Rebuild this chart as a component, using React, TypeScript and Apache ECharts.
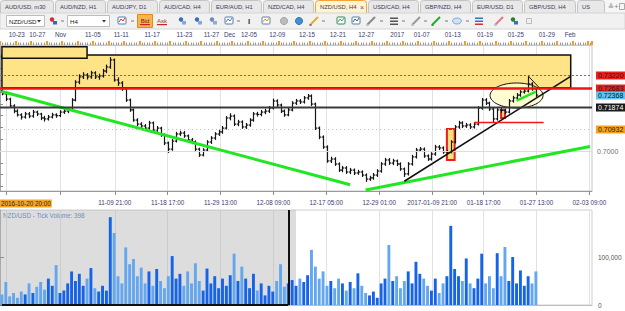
import React, { useEffect, useRef } from "react";
import * as echarts from "echarts";

const FONT = "'Liberation Sans', 'DejaVu Sans', Arial, sans-serif";

// ---------- DATA ----------
// each slot on the price axis holds three H4 bars
const SLOT_COUNT = 153;
const slotLabels: string[] = Array.from({ length: SLOT_COUNT }, (_, i) => "s" + i);

// [open, close, low, high]
const candles: number[][] = [
  [0.7255, 0.7242, 0.7236, 0.7263], [0.7242, 0.722, 0.7212, 0.7248], [0.722, 0.7191, 0.7184, 0.7226],
  [0.7191, 0.7169, 0.716, 0.7198], [0.7169, 0.7153, 0.7146, 0.7177], [0.7153, 0.7144, 0.7133, 0.716],
  [0.7144, 0.7157, 0.7137, 0.7166], [0.7157, 0.7148, 0.7139, 0.7165], [0.7148, 0.7165, 0.7141, 0.7174],
  [0.7165, 0.7157, 0.7148, 0.7171], [0.7157, 0.714, 0.7131, 0.7162], [0.714, 0.7136, 0.7125, 0.7149],
  [0.7136, 0.7144, 0.7129, 0.7153], [0.7144, 0.7153, 0.7138, 0.7162], [0.7153, 0.715, 0.7141, 0.716],
  [0.715, 0.7165, 0.7144, 0.7173], [0.7165, 0.7169, 0.7157, 0.7178], [0.7169, 0.7174, 0.716, 0.7184],
  [0.7174, 0.7216, 0.7168, 0.7224], [0.7216, 0.7292, 0.721, 0.73], [0.7292, 0.7314, 0.7283, 0.7325],
  [0.7314, 0.7322, 0.7305, 0.7334], [0.7322, 0.7314, 0.7303, 0.733], [0.7314, 0.7331, 0.7306, 0.734],
  [0.7331, 0.7314, 0.7305, 0.7338], [0.7314, 0.7318, 0.7302, 0.7328], [0.7318, 0.7339, 0.7311, 0.7348],
  [0.7339, 0.7356, 0.733, 0.7366], [0.7356, 0.7386, 0.7348, 0.7398], [0.7386, 0.7301, 0.7294, 0.7392],
  [0.7301, 0.7288, 0.7276, 0.7312], [0.7288, 0.7263, 0.7255, 0.7296], [0.7263, 0.7216, 0.7208, 0.727],
  [0.7216, 0.7174, 0.7166, 0.7222], [0.7174, 0.7131, 0.7124, 0.718], [0.7131, 0.7114, 0.7105, 0.7139],
  [0.7114, 0.7106, 0.7096, 0.7122], [0.7106, 0.7097, 0.7088, 0.7114], [0.7097, 0.7119, 0.709, 0.7128],
  [0.7119, 0.7089, 0.708, 0.7125], [0.7089, 0.7097, 0.7081, 0.7106], [0.7097, 0.7068, 0.706, 0.7103],
  [0.7068, 0.7034, 0.7025, 0.7075], [0.7034, 0.7008, 0.6992, 0.704], [0.7008, 0.7042, 0.7001, 0.7051],
  [0.7042, 0.7072, 0.7036, 0.7081], [0.7072, 0.7076, 0.7064, 0.7086], [0.7076, 0.7064, 0.7056, 0.7085],
  [0.7064, 0.7047, 0.7039, 0.707], [0.7047, 0.7038, 0.7029, 0.7055], [0.7038, 0.7008, 0.7, 0.7045],
  [0.7008, 0.6983, 0.6975, 0.7014], [0.6983, 0.7004, 0.6977, 0.7012], [0.7004, 0.7038, 0.6998, 0.7046],
  [0.7038, 0.7055, 0.703, 0.7063], [0.7055, 0.7072, 0.7047, 0.708], [0.7072, 0.7081, 0.7064, 0.709],
  [0.7081, 0.7097, 0.7073, 0.7106], [0.7097, 0.714, 0.7091, 0.7148], [0.714, 0.7148, 0.713, 0.716],
  [0.7148, 0.7114, 0.7106, 0.7155], [0.7114, 0.7123, 0.7105, 0.7132], [0.7123, 0.7102, 0.7094, 0.713],
  [0.7102, 0.711, 0.7093, 0.7119], [0.711, 0.7131, 0.7103, 0.7139], [0.7131, 0.7157, 0.7124, 0.7165],
  [0.7157, 0.7155, 0.7146, 0.7166], [0.7155, 0.7165, 0.7147, 0.7174], [0.7165, 0.7169, 0.7156, 0.7179],
  [0.7169, 0.7182, 0.7161, 0.7191], [0.7182, 0.7212, 0.7176, 0.7222], [0.7212, 0.7195, 0.7187, 0.7219],
  [0.7195, 0.7169, 0.7161, 0.7201], [0.7169, 0.7153, 0.7145, 0.7176], [0.7153, 0.7174, 0.7147, 0.7183],
  [0.7174, 0.7203, 0.7168, 0.7211], [0.7203, 0.7212, 0.7195, 0.7221], [0.7212, 0.7208, 0.7199, 0.722],
  [0.7208, 0.7225, 0.7201, 0.7233], [0.7225, 0.7233, 0.7217, 0.7242], [0.7233, 0.7199, 0.7191, 0.724],
  [0.7199, 0.7097, 0.7089, 0.7205], [0.7097, 0.7059, 0.705, 0.7104], [0.7059, 0.7017, 0.7009, 0.7066],
  [0.7017, 0.6958, 0.695, 0.7024], [0.6958, 0.6966, 0.6949, 0.6976], [0.6966, 0.6945, 0.6937, 0.6974],
  [0.6945, 0.6919, 0.6911, 0.6952], [0.6919, 0.6928, 0.691, 0.6937], [0.6928, 0.6911, 0.6903, 0.6936],
  [0.6911, 0.6919, 0.6902, 0.6928], [0.6919, 0.6907, 0.6898, 0.6926], [0.6907, 0.6911, 0.6899, 0.692],
  [0.6911, 0.6898, 0.689, 0.6918], [0.6898, 0.6881, 0.6869, 0.6905], [0.6881, 0.6886, 0.6873, 0.6895],
  [0.6886, 0.6898, 0.6878, 0.6907], [0.6898, 0.6915, 0.689, 0.6923], [0.6915, 0.6945, 0.6908, 0.6953],
  [0.6945, 0.6962, 0.6937, 0.6971], [0.6962, 0.6949, 0.6941, 0.697], [0.6949, 0.6958, 0.694, 0.6967],
  [0.6958, 0.6945, 0.6936, 0.6964], [0.6945, 0.6924, 0.6916, 0.6952], [0.6924, 0.6903, 0.689, 0.693],
  [0.6903, 0.6945, 0.6896, 0.6953], [0.6945, 0.6975, 0.6938, 0.6984], [0.6975, 0.7004, 0.6968, 0.7013],
  [0.7004, 0.7008, 0.6996, 0.7017], [0.7008, 0.6979, 0.6971, 0.7015], [0.6979, 0.6966, 0.6958, 0.6986],
  [0.6966, 0.6987, 0.6959, 0.6995], [0.6987, 0.7017, 0.698, 0.7026], [0.7017, 0.7013, 0.7004, 0.7025],
  [0.7013, 0.6996, 0.6988, 0.702], [0.6996, 0.6996, 0.6987, 0.7005], [0.6996, 0.7038, 0.699, 0.7046],
  [0.7038, 0.7102, 0.7032, 0.711], [0.7102, 0.7119, 0.7094, 0.7128], [0.7119, 0.7106, 0.7097, 0.7126],
  [0.7106, 0.711, 0.7098, 0.7119], [0.711, 0.7102, 0.7093, 0.7118], [0.7102, 0.7114, 0.7095, 0.7122],
  [0.7114, 0.7182, 0.7108, 0.719], [0.7182, 0.7216, 0.7175, 0.7225], [0.7216, 0.7203, 0.7195, 0.7224],
  [0.7203, 0.7178, 0.717, 0.7209], [0.7178, 0.7136, 0.7123, 0.7184], [0.7136, 0.7174, 0.7129, 0.7182],
  [0.7174, 0.7172, 0.7162, 0.7183], [0.7172, 0.7165, 0.7156, 0.718], [0.7165, 0.7212, 0.7159, 0.722],
  [0.7212, 0.7225, 0.7205, 0.7234], [0.7225, 0.7237, 0.7218, 0.7246], [0.7237, 0.725, 0.723, 0.7258],
  [0.725, 0.7254, 0.7243, 0.7263], [0.7254, 0.7284, 0.7248, 0.7316], [0.7284, 0.7263, 0.7255, 0.7292],
  [0.7263, 0.7237, 0.7229, 0.727],
];

const volumes: number[] = [
  22000, 48000, 18000, 25000, 15000, 28000, 22000, 45000, 25000, 38000,
  48000, 32000, 55000, 40000, 83000, 25000, 30000, 45000, 70000, 50000,
  65000, 40000, 55000, 77000, 35000, 28000, 40000, 30000, 183000, 150000,
  60000, 45000, 120000, 85000, 96000, 60000, 78000, 45000, 70000, 40000,
  75000, 50000, 35000, 60000, 102000, 55000, 65000, 40000, 70000, 45000,
  87000, 50000, 30000, 76000, 45000, 60000, 35000, 55000, 40000, 62000,
  107000, 50000, 80000, 55000, 35000, 65000, 30000, 45000, 20000, 40000,
  28000, 50000, 85000, 38000, 45000, 52000, 40000, 55000, 48000, 62000,
  115000, 80000, 55000, 70000, 40000, 50000, 35000, 55000, 45000, 30000,
  48000, 35000, 66000, 40000, 25000, 20000, 28000, 15000, 45000, 55000,
  125000, 50000, 60000, 35000, 50000, 70000, 45000, 90000, 65000, 55000,
  40000, 30000, 55000, 25000, 45000, 60000, 165000, 75000, 60000, 50000,
  97000, 45000, 35000, 55000, 107000, 45000, 60000, 35000, 108000, 60000,
  121000, 50000, 100000, 45000, 72000, 40000, 60000, 45000, 70000,
];

// time axes, in H4 bars counted from 2016-10-20 20:00
const BAR_TOTAL = 459;
const gridTickBars = [5, 47, 89, 130, 171, 212, 253, 294, 335, 375, 416, 457];
const bottomLabelBars = [89, 130, 171, 212, 253, 294, 335, 375, 416, 457];
const bottomLabels = [
  "11-09 21:00", "11-18 17:00", "11-29 13:00", "12-08 09:00", "12-17 05:00",
  "12-29 01:00", "2017-01-09 21:00", "01-18 17:00", "01-27 13:00", "02-03 09:00",
];
const topLabelBars = [13, 29, 47, 72, 94, 118, 143, 164, 178, 193, 215, 238, 262, 284, 308, 327, 351, 376, 400, 424, 442];
const topLabels = [
  "10-23", "10-27", "Nov", "11-05", "11-11", "11-17", "11-23", "11-27", "Dec", "12-05", "12-09",
  "12-15", "12-21", "12-27", "2017", "01-07", "01-13", "01-19", "01-25", "01-29", "Feb",
];
const cursorLabel = "2016-10-20 20:00";

// price axis
const PRICE_MIN = 0.68305;
const PRICE_MAX = 0.74492;
const priceTicks = [0.685, 0.69, 0.695, 0.7, 0.705, 0.71, 0.715, 0.72, 0.725, 0.73, 0.735, 0.74];
const priceLabelValues = [0.7];
const priceGridValue = 0.7;

// volume axis
const VOLUME_MAX = 198000;
const volumeLabelValues = [0, 100000];
const volumeTitle = "NZD/USD - Tick Volume: 398";

// horizontal levels shown on the price scale
const levels = [0.7322, 0.72683, 0.72368, 0.71874, 0.70932];

// drawings: [slot, price]
const zoneRect = [[0, 0.7407], [147, 0.72683]];
const cornerRect = [[0, 0.7442], [22, 0.7393]];
const breakoutBox = [[115, 0.7093], [117, 0.6962]];
const pullbackBox = [[129, 0.7174], [130, 0.714]];
const greenTrendDown = [[0, 0.7252], [90, 0.6857]];
const greenTrendUp = [[94, 0.6835], [152, 0.7019]];
const blackTrend = [[104, 0.6872], [147, 0.7316]];
const redSupport = [[122, 0.7123], [140, 0.7123]];
const greenChannel = [[133, 0.7213], [138, 0.7252]];
const peakLine = [[136, 0.7318], [139, 0.7266]];
// centre slot, centre price, x radius (slots), y radius (price)
const ellipseZone = [133, 0.72352, 6.85, 0.0053];
const selectionEndSlot = 74;

// tabs
const tabNames = [
  "AUD/USD, m30", "AUD/NZD, H1", "AUD/JPY, D1", "AUD/CAD, H4", "EUR/AUD, H1", "NZD/CAD, H4",
  "NZD/USD, H4", "USD/CAD, H4", "GBP/NZD, H4", "EUR/USD, D1", "GBP/USD, H4", "US",
];
const activeTab = 6;

// ---------- styles ----------
const levelStyles = [
  { color: "#ff3434", width: 1, dash: [2, 2], bg: "#e8201c", fg: "#1a1a1a" },
  { color: "#f41414", width: 2.5, dash: null, bg: "#e8201c", fg: "#1a1a1a" },
  { color: "rgba(0,0,0,0)", width: 1, dash: null, bg: "#5ec4f2", fg: "#111" },
  { color: "#3a3a3a", width: 2, dash: null, bg: "#1a1a1a", fg: "#ffffff" },
  { color: "#f2b870", width: 1, dash: [1, 3], bg: "#f5a21e", fg: "#1a1a1a" },
];
const BAR_COLOR = "#151515";

function seg(pts: number[][], style: any) {
  return [
    { coord: pts[0], lineStyle: style, label: { show: false } },
    { coord: pts[1] },
  ];
}
function area(pts: number[][], style: any) {
  return [{ coord: pts[0], itemStyle: style }, { coord: pts[1] }];
}

function buildChrome() {
  const els: any[] = [];
  // tab strip
  els.push({ type: "rect", shape: { x: 0, y: 0, width: 625, height: 13 }, style: { fill: "#f6f6f6" } });
  const tabX = [0, 55, 107, 159, 211, 263, 315, 368, 420, 472, 524, 577, 606];
  tabNames.forEach((name, i) => {
    const x = tabX[i];
    const w = tabX[i + 1] - x - 2;
    const act = i === activeTab;
    els.push({
      type: "rect",
      shape: { x: x + 0.5, y: 0.5, width: w, height: 13, r: [3, 3, 0, 0] },
      style: { fill: act ? "#fff3d2" : "#e8e8e8", stroke: act ? "#f2a43a" : "#c4c4c4", lineWidth: 1 },
    });
    els.push({
      type: "text", x: x + 5, y: 7,
      style: { text: name, fontSize: 5.8, fontFamily: FONT, fill: "#3a3a56", verticalAlign: "middle" },
    });
    if (act) {
      els.push({ type: "text", x: x + w - 6, y: 7, style: { text: "×", fontSize: 7, fontFamily: FONT, fill: "#555", verticalAlign: "middle" } });
    }
  });
  els.push({ type: "text", x: 608, y: 6.5, style: { text: "≚", fontSize: 7, fill: "#888", verticalAlign: "middle" } });
  els.push({ type: "text", x: 614, y: 6.5, style: { text: "+", fontSize: 8, fill: "#888", verticalAlign: "middle" } });
  els.push({ type: "rect", shape: { x: 619.5, y: 3.5, width: 5, height: 6 }, style: { fill: "none", stroke: "#aaa" } });

  // toolbar
  els.push({ type: "rect", shape: { x: 0, y: 13, width: 625, height: 16 }, style: { fill: "#f1f1f1", stroke: "#d4d4d4", lineWidth: 1 } });
  const combo = (x: number, w: number, t: string) => {
    els.push({ type: "rect", shape: { x: x + 0.5, y: 15.5, width: w, height: 11 }, style: { fill: "#fff", stroke: "#bdbdbd" } });
    els.push({ type: "text", x: x + 3, y: 21, style: { text: t, fontSize: 6.2, fontFamily: FONT, fill: "#222", verticalAlign: "middle" } });
    els.push({ type: "polygon", shape: { points: [[x + w - 7, 20], [x + w - 3, 20], [x + w - 5, 22.5]] }, style: { fill: "#333" } });
  };
  const dash = (x: number) => els.push({ type: "rect", shape: { x, y: 20.5, width: 3, height: 1 }, style: { fill: "#777" } });
  const icon = (x: number, a: string, b: string, kind: number) => {
    if (kind === 0) {
      els.push({ type: "rect", shape: { x, y: 17, width: 8, height: 7, r: 1 }, style: { fill: "#fff", stroke: a, lineWidth: 1 } });
      els.push({ type: "polyline", shape: { points: [[x + 1, 22], [x + 3, 19], [x + 5, 21], [x + 7, 18]] }, style: { stroke: b, fill: "none", lineWidth: 1 } });
    } else if (kind === 1) {
      els.push({ type: "circle", shape: { cx: x + 3, cy: 19.5, r: 2.2 }, style: { fill: a } });
      els.push({ type: "rect", shape: { x: x + 4, y: 21, width: 4, height: 3.5 }, style: { fill: b } });
    } else if (kind === 2) {
      els.push({ type: "circle", shape: { cx: x + 4, cy: 21, r: 3.6 }, style: { fill: a, stroke: b, lineWidth: 0.8 } });
    } else if (kind === 3) {
      els.push({ type: "line", shape: { x1: x, y1: 25, x2: x + 8, y2: 17 }, style: { stroke: a, lineWidth: 2 } });
      els.push({ type: "rect", shape: { x: x - 0.5, y: 24, width: 2, height: 2 }, style: { fill: b } });
    } else if (kind === 4) {
      els.push({ type: "rect", shape: { x, y: 17.5, width: 8, height: 1.5 }, style: { fill: a } });
      els.push({ type: "rect", shape: { x, y: 20.5, width: 8, height: 1.5 }, style: { fill: a } });
      els.push({ type: "rect", shape: { x, y: 23.5, width: 8, height: 1.5 }, style: { fill: b } });
    } else {
      els.push({ type: "ellipse", shape: { cx: x + 4, cy: 21, rx: 4.5, ry: 3 }, style: { fill: a, stroke: b, lineWidth: 0.8 } });
    }
  };
  combo(6, 38, "NZD/USD");
  icon(49, "#c33", "#36c", 1);
  dash(61);
  combo(67, 42, "H4");
  icon(118, "#4a7fc1", "#d33", 0);
  dash(131);
  els.push({ type: "rect", shape: { x: 137.5, y: 14.5, width: 15, height: 13 }, style: { fill: "#f7b54f", stroke: "#e38b17" } });
  els.push({ type: "text", x: 145, y: 20.5, style: { text: "Bid", fontSize: 6, fontFamily: FONT, fill: "#8a1010", align: "center", verticalAlign: "middle" } });
  els.push({ type: "rect", shape: { x: 140, y: 24, width: 10, height: 1.2 }, style: { fill: "#d0202a" } });
  els.push({ type: "text", x: 162, y: 20.5, style: { text: "Ask", fontSize: 6, fontFamily: FONT, fill: "#a03a3a", align: "center", verticalAlign: "middle" } });
  els.push({ type: "rect", shape: { x: 157, y: 24, width: 10, height: 1.2 }, style: { fill: "#d0202a" } });
  icon(178, "#3a6fc0", "#8aa8d8", 1);
  icon(194, "#3a6fc0", "#8aa8d8", 1);
  icon(209, "#6a8ac8", "#9ab", 1);
  icon(225, "#4a7fc1", "#7a7a7a", 0);
  dash(237);
  els.push({ type: "text", x: 249, y: 21, style: { text: "I", fontSize: 8, fontFamily: FONT, fontWeight: "bold", fill: "#333", align: "center", verticalAlign: "middle" } });
  icon(262, "#5a7fbf", "#e6a21c", 0);
  icon(280, "#bbb", "#999", 2);
  icon(295, "#3f8fd8", "#2b6cb0", 2);
  icon(310, "#e0b030", "#777", 3);
  dash(322);
  icon(337, "#2e8b57", "#3a7", 0);
  icon(352, "#4a7fc1", "#555", 0);
  icon(367, "#888", "#bbb", 3);
  dash(380);
  icon(390, "#555", "#555", 4);
  dash(402);
  icon(412, "#999", "#bbb", 3);
  dash(424);
  icon(432, "#2aa62a", "#2aa62a", 3);
  dash(445);
  icon(453, "#cfe3f7", "#6a95c8", 5);
  dash(466);
  icon(475, "#3a6fc0", "#c33", 4);
  icon(495, "#e07a8a", "#bbb", 3);
  icon(510, "#2e7d32", "#3a6fc0", 1);
  els.push({ type: "rect", shape: { x: 526.5, y: 18.5, width: 5, height: 5 }, style: { fill: "none", stroke: "#bbb" } });

  // cursor time label
  els.push({
    type: "text", x: 0, y: 199.5, z: 100,
    style: { text: cursorLabel, fontSize: 6.3, fontFamily: FONT, fill: "#2a2a2a", backgroundColor: "#f4a526", padding: [1, 1, 1, 1] },
  });
  // volume title
  els.push({
    type: "text", x: 3, y: 215,
    style: { text: volumeTitle, fontSize: 6.3, fontFamily: FONT, fill: "#3b6fd4", verticalAlign: "middle" },
  });
  return els;
}

export default function App() {
  const ref = useRef<HTMLDivElement>(null);
  useEffect(() => {
    if (!ref.current) return;
    const chart = echarts.init(ref.current, null, { renderer: "svg" });

    const ohlcRows = candles.map((c, i) => [i, c[0], c[1], c[2], c[3]]);

    const option: any = {
      animation: false,
      backgroundColor: "#ffffff",
      textStyle: { fontFamily: FONT },
      grid: [
        { left: 0, right: 33, top: 45, height: 146, show: true, borderColor: "#c6c6c6", borderWidth: 1, backgroundColor: "transparent" },
        { left: 0, right: 33, top: 210, height: 95, show: true, borderColor: "#cfcfcf", borderWidth: 1, backgroundColor: "transparent" },
      ],
      xAxis: [
        { type: "category", gridIndex: 0, position: "bottom", data: slotLabels, boundaryGap: true, show: false },
        {
          type: "value", gridIndex: 0, position: "bottom", min: 0, max: BAR_TOTAL,
          axisLine: { show: true, lineStyle: { color: "#9a9a9a" } },
          axisTick: { show: true, customValues: gridTickBars, length: 4, lineStyle: { color: "#8a8a8a" } },
          axisLabel: {
            show: true, customValues: bottomLabelBars, margin: 8, fontSize: 6.3, color: "#3c3c6a", fontFamily: FONT,
            formatter: (v: number) => { const k = bottomLabelBars.indexOf(v); return k >= 0 ? bottomLabels[k] : ""; },
          },
          splitLine: { show: true, lineStyle: { color: "#e2e2e2" } },
        },
        {
          type: "value", gridIndex: 0, position: "top", min: 0, max: BAR_TOTAL, interval: 12,
          axisLine: { show: true, lineStyle: { color: "#c8c8c8" } },
          axisTick: { show: true, length: 4, lineStyle: { color: "#f0a020", width: 2 } },
          minorTick: { show: true, splitNumber: 6, length: 2.5, lineStyle: { color: "#9a9a9a" } },
          axisLabel: {
            show: true, customValues: topLabelBars, margin: 8, fontSize: 6.3, color: "#3c3c6a", fontFamily: FONT,
            formatter: (v: number) => { const k = topLabelBars.indexOf(v); return k >= 0 ? topLabels[k] : ""; },
          },
          splitLine: { show: false },
        },
        { type: "category", gridIndex: 1, position: "bottom", data: slotLabels, boundaryGap: true, show: false },
        {
          type: "value", gridIndex: 1, position: "bottom", min: 0, max: BAR_TOTAL,
          axisLine: { show: true, lineStyle: { color: "#bdbdbd" } },
          axisTick: { show: false, customValues: gridTickBars },
          axisLabel: { show: false },
          splitLine: { show: true, lineStyle: { color: "#e2e2e2" } },
        },
      ],
      yAxis: [
        {
          type: "value", gridIndex: 0, position: "right", min: PRICE_MIN, max: PRICE_MAX,
          axisLine: { show: true, lineStyle: { color: "#a6a6a6" } },
          axisTick: { show: true, customValues: priceTicks, length: 3, lineStyle: { color: "#8a8a8a" } },
          axisLabel: {
            show: true, customValues: priceLabelValues, margin: 5, fontSize: 7, color: "#707070", fontFamily: FONT,
            formatter: (v: number) => v.toFixed(4),
          },
          splitLine: { show: false },
        },
        {
          type: "value", gridIndex: 1, position: "right", min: 0, max: VOLUME_MAX,
          axisLine: { show: true, lineStyle: { color: "#a6a6a6" } },
          axisTick: { show: true, customValues: volumeLabelValues, length: 4, lineStyle: { color: "#777" } },
          axisLabel: {
            show: true, customValues: volumeLabelValues, margin: 6, fontSize: 6.5, color: "#555", fontFamily: FONT,
            formatter: (v: number) => v.toLocaleString("en-US"),
          },
          splitLine: { show: false },
        },
      ],
      series: [
        {
          // carrier of the zone drawings and trend lines
          type: "line", xAxisIndex: 0, yAxisIndex: 0, data: [], z: 1, silent: true,
          markArea: {
            silent: true,
            label: { show: false },
            data: [
              area(zoneRect, { color: "#ffe387", borderColor: "#111", borderWidth: 1.5 }),
              area(cornerRect, { color: "#ffe387", borderColor: "#111", borderWidth: 1.5 }),
              area(breakoutBox, { color: "#ffe07a", borderColor: "#ee1c1c", borderWidth: 2 }),
              area(pullbackBox, { color: "#ffe07a", borderColor: "#ee1c1c", borderWidth: 2 }),
            ],
          },
          markLine: {
            silent: true,
            symbol: ["none", "none"],
            label: { show: false },
            z: 5,
            data: [
              { yAxis: priceGridValue, lineStyle: { color: "#dcdcdc", width: 1, type: "solid" }, label: { show: false } },
              seg(greenTrendDown, { color: "#22e622", width: 3, type: "solid" }),
              seg(greenTrendUp, { color: "#22e622", width: 3, type: "solid" }),
              seg(blackTrend, { color: "#111", width: 1.6, type: "solid" }),
              seg(redSupport, { color: "#f01818", width: 1.4, type: "solid" }),
              seg(greenChannel, { color: "#22e622", width: 2.5, type: "solid" }),
              seg(peakLine, { color: "#111", width: 1, type: "solid" }),
            ],
          },
        },
        {
          type: "custom", xAxisIndex: 0, yAxisIndex: 0, z: 2, silent: true,
          data: [ellipseZone],
          encode: { x: 0, y: 1 },
          renderItem: (_p: any, api: any) => {
            const c = api.coord([api.value(0), api.value(1)]);
            const bw = api.size([1, 0])[0];
            const ry = api.size([1, api.value(3) * 2])[1] / 2;
            return {
              type: "ellipse",
              shape: { cx: c[0], cy: c[1], rx: bw * api.value(2), ry },
              style: { fill: "rgba(255,251,205,0.9)", stroke: "#111", lineWidth: 1 },
            };
          },
        },
        {
          // OHLC bars
          type: "custom", xAxisIndex: 0, yAxisIndex: 0, z: 3, silent: true,
          data: ohlcRows,
          dimensions: ["slot", "open", "close", "low", "high"],
          encode: { x: 0, y: [1, 2, 3, 4] },
          renderItem: (_p: any, api: any) => {
            const i = api.value(0);
            const o = api.coord([i, api.value(1)]);
            const c = api.coord([i, api.value(2)]);
            const l = api.coord([i, api.value(3)]);
            const h = api.coord([i, api.value(4)]);
            const x = Math.round(o[0]) + 0.5;
            const st = { stroke: BAR_COLOR, lineWidth: 1.2 };
            return {
              type: "group",
              children: [
                { type: "line", shape: { x1: x, y1: l[1], x2: x, y2: h[1] }, style: st },
                { type: "line", shape: { x1: x - 1.7, y1: o[1], x2: x, y2: o[1] }, style: st },
                { type: "line", shape: { x1: x, y1: c[1], x2: x + 1.7, y2: c[1] }, style: st },
              ],
            };
          },
        },
        {
          type: "custom", xAxisIndex: 0, yAxisIndex: 0, z: 6, silent: true, clip: false,
          data: levels.map((v, i) => [i, v]),
          encode: { x: 0, y: 1 },
          renderItem: (params: any, api: any) => {
            const i = params.dataIndex;
            const st = levelStyles[i];
            const v = api.value(1);
            const y = Math.round(api.coord([0, v])[1]) + 0.5;
            const cs = params.coordSys;
            const lineStyle: any = { stroke: st.color, lineWidth: st.width };
            if (st.dash) lineStyle.lineDash = st.dash;
            return {
              type: "group",
              children: [
                { type: "line", shape: { x1: cs.x, y1: y, x2: cs.x + cs.width, y2: y }, style: lineStyle },
                {
                  type: "text", x: cs.x + cs.width + 4, y,
                  style: {
                    text: v.toFixed(5), fontSize: 7, fontFamily: FONT, fill: st.fg,
                    backgroundColor: st.bg, padding: [1, 2, 0, 2], verticalAlign: "middle", align: "left",
                  },
                },
              ],
            };
          },
        },
        {
          type: "bar", xAxisIndex: 3, yAxisIndex: 1, data: volumes, barWidth: 2.9, z: 3,
          itemStyle: {
            color: (p: any) => {
              const c = candles[p.dataIndex];
              return c && c[1] >= c[0] ? "#1463e8" : "#64a7ef";
            },
          },
          markArea: {
            silent: true,
            label: { show: false },
            itemStyle: { color: "rgba(175,175,175,0.42)" },
            data: [[{ xAxis: 0 }, { xAxis: selectionEndSlot }]],
          },
          markLine: {
            silent: true,
            symbol: ["none", "none"],
            label: { show: false },
            lineStyle: { color: "#111", width: 2, type: "solid" },
            data: [
              { xAxis: selectionEndSlot },
              [{ coord: [0, 0] }, { coord: [selectionEndSlot, 0] }],
            ],
          },
        },
      ],
      graphic: { elements: buildChrome() },
    };
    chart.setOption(option);
    return () => chart.dispose();
  }, []);
  return <div ref={ref} style={{ position: "fixed", left: 0, top: 0, width: 625, height: 311 }} />;
}
